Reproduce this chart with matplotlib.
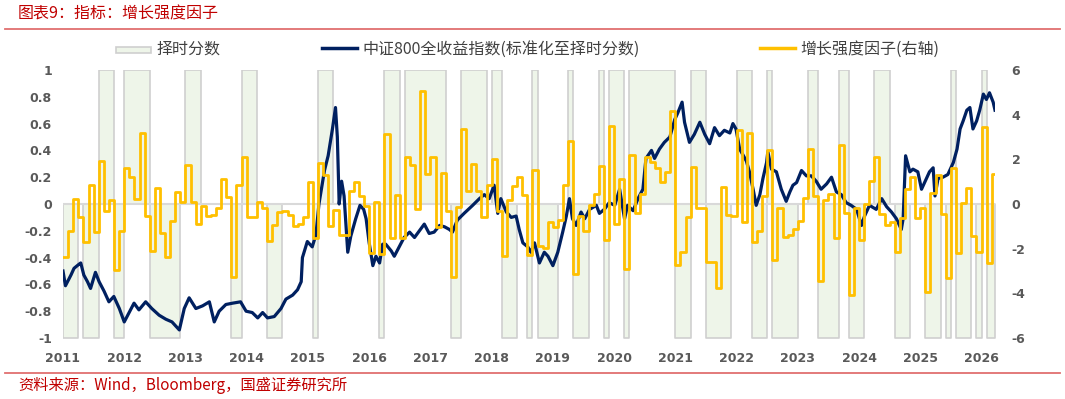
import numpy as np
import matplotlib
matplotlib.use('Agg')
import matplotlib.pyplot as plt
from matplotlib.lines import Line2D
from matplotlib.patches import Rectangle
from matplotlib.ticker import FuncFormatter

plt.rcParams['font.family'] = ['Noto Sans CJK SC', 'DejaVu Sans']

# monthly data, Jan 2011 .. Mar 2026
start_year = 2011
end_year = 2026.22
years = list(range(2011, 2027))

# timing score (-1 / 0 / 1), one value per month
score = [
    -1, -1, -1, 0, -1, -1, -1, 1, 1, 1, -1, -1,      # 2011
    1, 1, 1, 1, 1, -1, -1, -1, -1, -1, -1, 0,        # 2012
    1, 1, 1, 0, 0, 0, 0, 0, 0, -1, -1, 1,            # 2013
    1, 1, 0, 0, -1, -1, -1, 0, 0, 0, 0, 0,           # 2014
    0, -1, 1, 1, 1, 0, 0, 0, 0, 0, 0, 0,             # 2015
    0, 0, -1, 1, 1, 1, 0, 1, 1, 1, 1, 1,             # 2016
    1, 1, 1, 0, -1, -1, 1, 1, 1, 1, 1, 0,            # 2017
    1, 1, -1, -1, -1, 0, 0, -1, 1, -1, -1, -1,       # 2018
    -1, 0, 0, 1, -1, -1, -1, 0, 0, 1, -1, 1,         # 2019
    1, 1, -1, 1, 1, 1, 1, 1, 1, 1, 1, 1,             # 2020
    -1, -1, -1, 1, 1, 1, -1, -1, -1, -1, -1, 0,      # 2021
    1, 1, 1, -1, -1, -1, 1, -1, -1, -1, -1, -1,      # 2022
    0, 0, 1, 1, -1, -1, -1, -1, 1, 1, -1, -1,        # 2023
    -1, 0, 0, 1, 1, 1, 0, -1, -1, -1, 0, 0,          # 2024
    0, -1, -1, -1, 0, -1, 1, -1, -1, -1, 0, -1,      # 2025
    1, -1, -1,                                       # 2026
]

# growth strength factor (right axis), one value per month
factor = [
    -2.36, -1.19, 0.22, -0.60, -1.69, 0.85, -1.27, 1.94, -0.30, 0.18, -2.96, -1.22,
    1.63, 1.22, 0.22, 3.16, -0.55, -2.09, 0.73, -1.30, -2.39, -0.75, 0.55, 0.10,
    1.75, 0.10, -0.90, -0.07, -0.55, -0.50, -0.20, 1.12, 0.30, -3.28, 0.85, 2.12,
    -0.60, -0.60, 0.10, -0.16, -1.64, -0.94, -0.37, -0.30, -0.49, -0.97, -0.90, -0.60,
    1.00, -1.54, 1.82, 1.30, -1.00, -0.25, -1.40, -1.40, 0.60, 1.00, 0.34, -0.10,
    -2.20, 0.07, -2.26, 3.15, -1.52, 0.39, -1.52, 2.09, 1.76, -0.21, 5.07, 1.34,
    2.09, -1.04, 1.39, -0.30, -3.25, -0.15, 3.37, 0.60, 1.79, 0.60, -0.60, 0.87,
    2.03, -0.33, -2.31, 0.20, 0.82, 1.19, 0.42, -2.27, 1.54, -1.90, -1.97, -0.82,
    -1.04, -0.70, 0.87, 2.81, -3.12, -0.55, -1.22, -0.06, 0.45, 1.70, -1.62, 3.48,
    -0.88, 1.12, -2.90, 2.20, -0.40, 0.45, 2.10, 1.90, 1.60, 1.00, 1.45, 4.17,
    -2.75, -2.13, -0.60, 1.64, -0.17, -0.17, -2.60, -2.60, -3.78, 0.75, -0.48, -0.52,
    3.30, -0.80, 3.17, -1.70, -1.20, 0.37, 2.40, -2.50, -0.20, -1.50, -1.38, -1.10,
    -0.76, 0.25, 2.45, 0.37, -3.45, 0.18, 0.45, -1.53, 2.66, -0.42, -4.06, -0.20,
    -1.60, 0.00, 1.04, 2.12, -0.45, -0.94, -0.82, -2.13, -0.64, 0.67, 1.19, -0.61,
    -0.19, -3.93, 0.49, 1.30, -0.45, -3.30, 1.63, -2.21, 0.04, 0.73, -1.42, -2.13,
    3.46, -2.64, 1.34,
]

# CSI 800 total return, rescaled to the score range (left axis)
csi_t = [
    2011.00, 2011.04, 2011.13, 2011.18, 2011.26, 2011.29, 2011.34, 2011.40, 2011.45, 2011.53,
    2011.59, 2011.67, 2011.75, 2011.83, 2011.92, 2012.00, 2012.08, 2012.16, 2012.24, 2012.35,
    2012.45, 2012.57, 2012.68, 2012.78, 2012.90, 2012.98, 2013.06, 2013.17, 2013.28, 2013.39,
    2013.47, 2013.55, 2013.66, 2013.77, 2013.90, 2013.99, 2014.09, 2014.18, 2014.26, 2014.34,
    2014.45, 2014.56, 2014.64, 2014.75, 2014.83, 2014.89, 2014.91, 2014.99, 2015.07, 2015.13,
    2015.18, 2015.27, 2015.33, 2015.40, 2015.45, 2015.48, 2015.51, 2015.55, 2015.59, 2015.65,
    2015.70, 2015.78, 2015.85, 2015.91, 2015.95, 2016.00, 2016.06, 2016.11, 2016.17, 2016.22,
    2016.27, 2016.36, 2016.41, 2016.49, 2016.57, 2016.66, 2016.74, 2016.82, 2016.90, 2016.98,
    2017.06, 2017.15, 2017.23, 2017.31, 2017.36, 2017.44, 2017.55, 2017.69, 2017.80, 2017.88,
    2017.96, 2018.04, 2018.10, 2018.15, 2018.24, 2018.32, 2018.40, 2018.45, 2018.51, 2018.59,
    2018.64, 2018.70, 2018.78, 2018.86, 2018.92, 2019.00, 2019.08, 2019.16, 2019.22, 2019.27,
    2019.32, 2019.38, 2019.46, 2019.52, 2019.60, 2019.71, 2019.76, 2019.84, 2019.92, 2020.01,
    2020.09, 2020.17, 2020.22, 2020.31, 2020.39, 2020.47, 2020.52, 2020.61, 2020.66, 2020.74,
    2020.82, 2020.91, 2020.99, 2021.04, 2021.11, 2021.15, 2021.23, 2021.31, 2021.40, 2021.48,
    2021.56, 2021.64, 2021.72, 2021.80, 2021.89, 2021.94, 2021.99, 2022.05, 2022.10, 2022.16,
    2022.21, 2022.27, 2022.32, 2022.38, 2022.43, 2022.49, 2022.51, 2022.57, 2022.65, 2022.73,
    2022.81, 2022.87, 2022.92, 2022.98, 2023.06, 2023.14, 2023.22, 2023.30, 2023.38, 2023.47,
    2023.55, 2023.63, 2023.71, 2023.79, 2023.87, 2023.96, 2024.04, 2024.09, 2024.17, 2024.28,
    2024.37, 2024.45, 2024.53, 2024.61, 2024.69, 2024.72, 2024.76, 2024.83, 2024.88, 2024.96,
    2025.02, 2025.07, 2025.15, 2025.21, 2025.24, 2025.29, 2025.37, 2025.45, 2025.54, 2025.60,
    2025.65, 2025.70, 2025.76, 2025.81, 2025.86, 2025.92, 2025.97, 2026.03, 2026.08, 2026.13,
    2026.19, 2026.22,
]
csi_v = [
    -0.50, -0.61, -0.53, -0.48, -0.45, -0.44, -0.53, -0.58, -0.63, -0.51,
    -0.58, -0.65, -0.73, -0.69, -0.78, -0.88, -0.81, -0.74, -0.79, -0.73,
    -0.78, -0.83, -0.86, -0.88, -0.94, -0.78, -0.70, -0.78, -0.76, -0.73,
    -0.88, -0.80, -0.75, -0.74, -0.73, -0.80, -0.81, -0.85, -0.81, -0.85,
    -0.84, -0.78, -0.71, -0.68, -0.64, -0.58, -0.40, -0.28, -0.32, -0.23,
    0.00, 0.25, 0.36, 0.56, 0.72, 0.50, 0.00, 0.17, 0.06, -0.36,
    -0.24, -0.11, -0.01, -0.04, -0.11, -0.29, -0.46, -0.39, -0.44, -0.30,
    -0.30, -0.35, -0.39, -0.32, -0.25, -0.21, -0.25, -0.20, -0.15, -0.22,
    -0.21, -0.16, -0.17, -0.19, -0.21, -0.12, -0.07, -0.01, 0.04, 0.07,
    0.04, 0.14, -0.07, 0.04, -0.06, -0.10, -0.09, -0.19, -0.29, -0.32,
    -0.36, -0.29, -0.44, -0.36, -0.39, -0.46, -0.36, -0.21, -0.09, 0.04,
    -0.11, -0.16, -0.06, -0.11, -0.04, -0.01, -0.07, -0.04, 0.01, -0.01,
    0.11, -0.11, -0.01, -0.05, 0.04, 0.11, 0.34, 0.40, 0.34, 0.41,
    0.46, 0.50, 0.63, 0.68, 0.76, 0.61, 0.46, 0.52, 0.61, 0.52,
    0.45, 0.57, 0.51, 0.55, 0.53, 0.60, 0.56, 0.41, 0.37, 0.32,
    0.24, 0.11, -0.01, 0.07, 0.19, 0.31, 0.39, 0.26, 0.24, 0.11,
    0.02, 0.09, 0.14, 0.16, 0.25, 0.21, 0.21, 0.17, 0.11, 0.15,
    0.20, 0.09, 0.07, 0.01, -0.01, -0.04, -0.16, -0.09, -0.01, -0.04,
    0.04, -0.02, -0.06, -0.11, -0.19, -0.11, 0.36, 0.24, 0.26, 0.24,
    0.11, 0.16, 0.24, 0.27, 0.06, 0.19, 0.20, 0.22, 0.31, 0.41,
    0.56, 0.62, 0.70, 0.72, 0.56, 0.62, 0.70, 0.82, 0.78, 0.83,
    0.76, 0.70,
]

NAVY = '#002060'
GOLD = '#FFC000'
SHADE = '#EEF5E9'
SHADE_EDGE = '#CFCFCF'
TICK_C = '#595959'
RED = '#C00000'

n = len(score)
edges = start_year + np.arange(n + 1) / 12.0
edges[-1] = end_year
score_step = np.append(score, score[-1])
factor_step = np.append(factor, factor[-1])

W, H = 1065, 399
fig = plt.figure(figsize=(W / 100, H / 100), dpi=100)
ax = fig.add_axes([63 / W, 1 - 338 / H, (995 - 63) / W, (338 - 70) / H])
ax2 = ax.twinx()

ax.fill_between(edges, 0, score_step, step='post', facecolor=SHADE,
                edgecolor=SHADE_EDGE, linewidth=1.2, zorder=1)
ax.axhline(0, color='#D9D9D9', lw=1.5, zorder=2)
ax.plot(csi_t, csi_v, color=NAVY, lw=2.3, zorder=3)
ax2.step(edges, factor_step, where='post', color=GOLD, lw=2.0)

ax.set_xlim(start_year, end_year)
ax.set_ylim(-1, 1)
ax2.set_ylim(-6, 6)
ax.set_xticks(years)
ax.set_xticklabels([str(y) for y in years])
ax.set_yticks(np.linspace(-1, 1, 11))
ax2.set_yticks(np.arange(-6, 7, 2))
ax.yaxis.set_major_formatter(FuncFormatter(lambda v, p: f'{round(v, 1) + 0:g}'))
ax2.yaxis.set_major_formatter(FuncFormatter(lambda v, p: f'{int(round(v))}'))

for a in (ax, ax2):
    for s in a.spines.values():
        s.set_visible(False)
    a.tick_params(length=0, labelcolor=TICK_C, labelsize=9)
    for lab in a.get_yticklabels() + a.get_xticklabels():
        lab.set_fontweight('bold')
        lab.set_fontfamily('DejaVu Sans')
ax.tick_params(axis='y', pad=8)
ax.tick_params(axis='x', pad=10)
ax2.tick_params(axis='y', pad=12)

# legend drawn by hand to match the uneven spacing
fig.patches.append(Rectangle((116 / W, 1 - 53 / H), 35 / W, 6 / H, transform=fig.transFigure,
                             facecolor=SHADE, edgecolor=SHADE_EDGE, lw=1.2))
fig.lines.append(Line2D([322 / W, 357 / W], [1 - 48 / H] * 2, transform=fig.transFigure,
                        color=NAVY, lw=2.5))
fig.lines.append(Line2D([760 / W, 795 / W], [1 - 48 / H] * 2, transform=fig.transFigure,
                        color=GOLD, lw=2.5))
leg_kw = dict(fontsize=11.5, color='#404040', va='center', ha='left')
fig.text(156 / W, 1 - 49 / H, '择时分数', **leg_kw)
fig.text(362 / W, 1 - 49 / H, '中证800全收益指数(标准化至择时分数)', **leg_kw)
fig.text(800 / W, 1 - 49 / H, '增长强度因子(右轴)', **leg_kw)

# header / footer
fig.text(18 / W, 1 - 14 / H, '图表9：指标：增长强度因子', color=RED, fontsize=11.5,
         va='center', ha='left')
fig.lines.append(Line2D([5 / W, 1060 / W], [1 - 29 / H] * 2, transform=fig.transFigure,
                        color='#E07070', lw=1.3))
fig.lines.append(Line2D([5 / W, 1060 / W], [1 - 373 / H] * 2, transform=fig.transFigure,
                        color='#E07070', lw=1.3))
fig.text(18 / W, 1 - 385 / H, '资料来源：Wind，Bloomberg，国盛证券研究所', color=RED,
         fontsize=11, va='center', ha='left')

fig.savefig('out.png', dpi=100)
